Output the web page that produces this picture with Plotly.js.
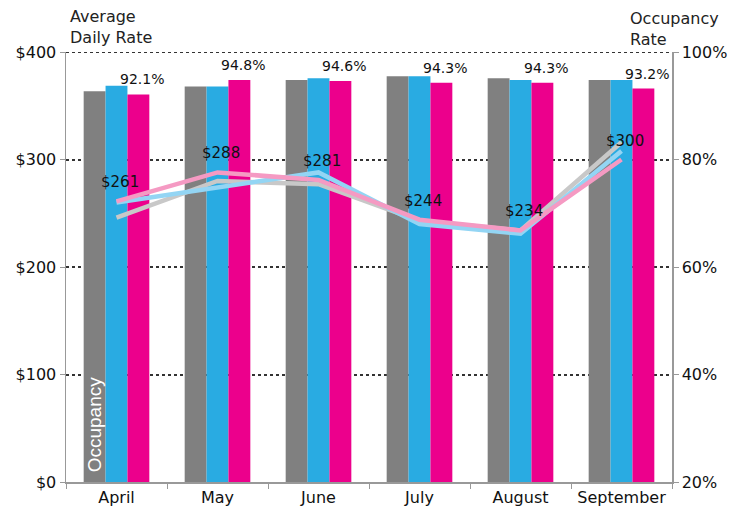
<!DOCTYPE html>
<html>
<head>
<meta charset="utf-8">
<script src="https://cdn.plot.ly/plotly-3.0.1.min.js"></script>
<style>html,body{margin:0;padding:0;background:#fff;}#chart{width:747px;height:506px;}</style>
</head>
<body>
<div id="chart"></div>
<script>
// ---- data ----
const months = ['April', 'May', 'June', 'July', 'August', 'September'];
// occupancy rate (%) - bars
const occGray = [92.7, 93.6, 94.8, 95.5, 95.1, 94.8];
const occBlue = [93.7, 93.6, 95.1, 95.5, 94.8, 94.8];
const occPink = [92.1, 94.8, 94.6, 94.3, 94.3, 93.2];
const occLabels = ['92.1%', '94.8%', '94.6%', '94.3%', '94.3%', '93.2%'];
// average daily rate ($) - lines
const adrGray = [246, 280, 277, 243, 234, 316];
const adrBlue = [260, 274, 288, 240, 231, 308];
const adrPink = [261, 288, 281, 244, 234, 300];
const adrLabels = ['$261', '$288', '$281', '$244', '$234', '$300'];
const occTicks = [20, 40, 60, 80, 100];
const occTickText = ['20%', '40%', '60%', '80%', '100%'];
const adrTicks = [0, 100, 200, 300, 400];
const adrTickText = ['$0', '$100', '$200', '$300', '$400'];

const tickFont = {family: 'DejaVu Sans, sans-serif', size: 16, color: '#111'};

function bar(y, color) {
  return {type: 'bar', x: months, y: y, yaxis: 'y', marker: {color: color, line: {width: 0}},
          hoverinfo: 'skip'};
}
function line(y, color) {
  return {type: 'scatter', mode: 'lines', x: months, y: y, yaxis: 'y2',
          line: {color: color, width: 4.5}, hoverinfo: 'skip'};
}

const data = [
  bar(occGray, '#808080'),
  bar(occBlue, '#29ABE2'),
  bar(occPink, '#EC008C'),
  line(adrGray, '#C8C8C8'),
  line(adrBlue, '#93D5F4'),
  line(adrPink, '#F59AC3')
];

const annotations = [];
months.forEach((m, i) => {
  annotations.push({x: m, y: occPink[i], xref: 'x', yref: 'y', text: occLabels[i],
    showarrow: false, xshift: 25, yshift: 15, yanchor: 'middle',
    font: {family: 'DejaVu Sans, sans-serif', size: 14, color: '#111'}});
  annotations.push({x: m, y: adrPink[i], xref: 'x', yref: 'y2', text: adrLabels[i],
    showarrow: false, xshift: 3, yshift: 19, yanchor: 'middle',
    font: {family: 'DejaVu Sans, sans-serif', size: 15, color: '#111'}});
});
annotations.push({x: 0.0, y: 1, xref: 'paper', yref: 'paper', xanchor: 'left', yanchor: 'middle',
  yshift: 25, xshift: 2, align: 'left', showarrow: false, text: 'Average<br>Daily Rate',
  font: {family: 'DejaVu Sans, sans-serif', size: 16, color: '#222'}});
annotations.push({x: 1, y: 1, xref: 'paper', yref: 'paper', xanchor: 'left', yanchor: 'middle',
  yshift: 23, xshift: -44, align: 'left', showarrow: false, text: 'Occupancy<br>Rate',
  font: {family: 'DejaVu Sans, sans-serif', size: 16, color: '#222'}});
annotations.push({x: months[0], y: 0.133, xref: 'x', yref: 'paper', xshift: -22,
  xanchor: 'center', yanchor: 'middle',
  textangle: -90, showarrow: false, text: 'Occupancy',
  font: {family: 'Liberation Sans, Arial, sans-serif', size: 19, color: '#fff'}});

const layout = {
  width: 747, height: 506,
  margin: {l: 66, r: 75, t: 52, b: 24},
  paper_bgcolor: '#fff', plot_bgcolor: '#fff',
  showlegend: false,
  barmode: 'group', bargap: 0.35, bargroupgap: 0,
  hovermode: false,
  xaxis: {
    type: 'category', showline: true, linecolor: '#999', linewidth: 1.5,
    ticks: 'outside', ticklen: 5, tickcolor: '#999', tickson: 'boundaries',
    tickfont: tickFont, showgrid: false, zeroline: false, fixedrange: true
  },
  yaxis: {
    side: 'right', range: [20, 100], tickmode: 'array', tickvals: occTicks, ticktext: occTickText,
    showline: true, linecolor: '#999', linewidth: 1.5,
    ticks: 'outside', ticklen: 5, tickcolor: '#999',
    showgrid: true, gridcolor: '#333', gridwidth: 2, griddash: 'dot',
    zeroline: false, tickfont: tickFont, fixedrange: true
  },
  yaxis2: {
    side: 'left', overlaying: 'y', range: [0, 400], tickmode: 'array', tickvals: adrTicks, ticktext: adrTickText,
    showline: true, linecolor: '#999', linewidth: 1.5,
    ticks: 'outside', ticklen: 5, tickcolor: '#999',
    showgrid: false, zeroline: false, tickfont: tickFont, fixedrange: true
  },
  shapes: [{
    type: 'line', xref: 'paper', x0: 0, x1: 1, yref: 'y', y0: occTicks[occTicks.length - 1],
    y1: occTicks[occTicks.length - 1], layer: 'below',
    line: {color: '#333', width: 2, dash: 'dot'}
  }],
  annotations: annotations
};

Plotly.newPlot('chart', data, layout, {displayModeBar: false, staticPlot: true});
</script>
</body>
</html>
